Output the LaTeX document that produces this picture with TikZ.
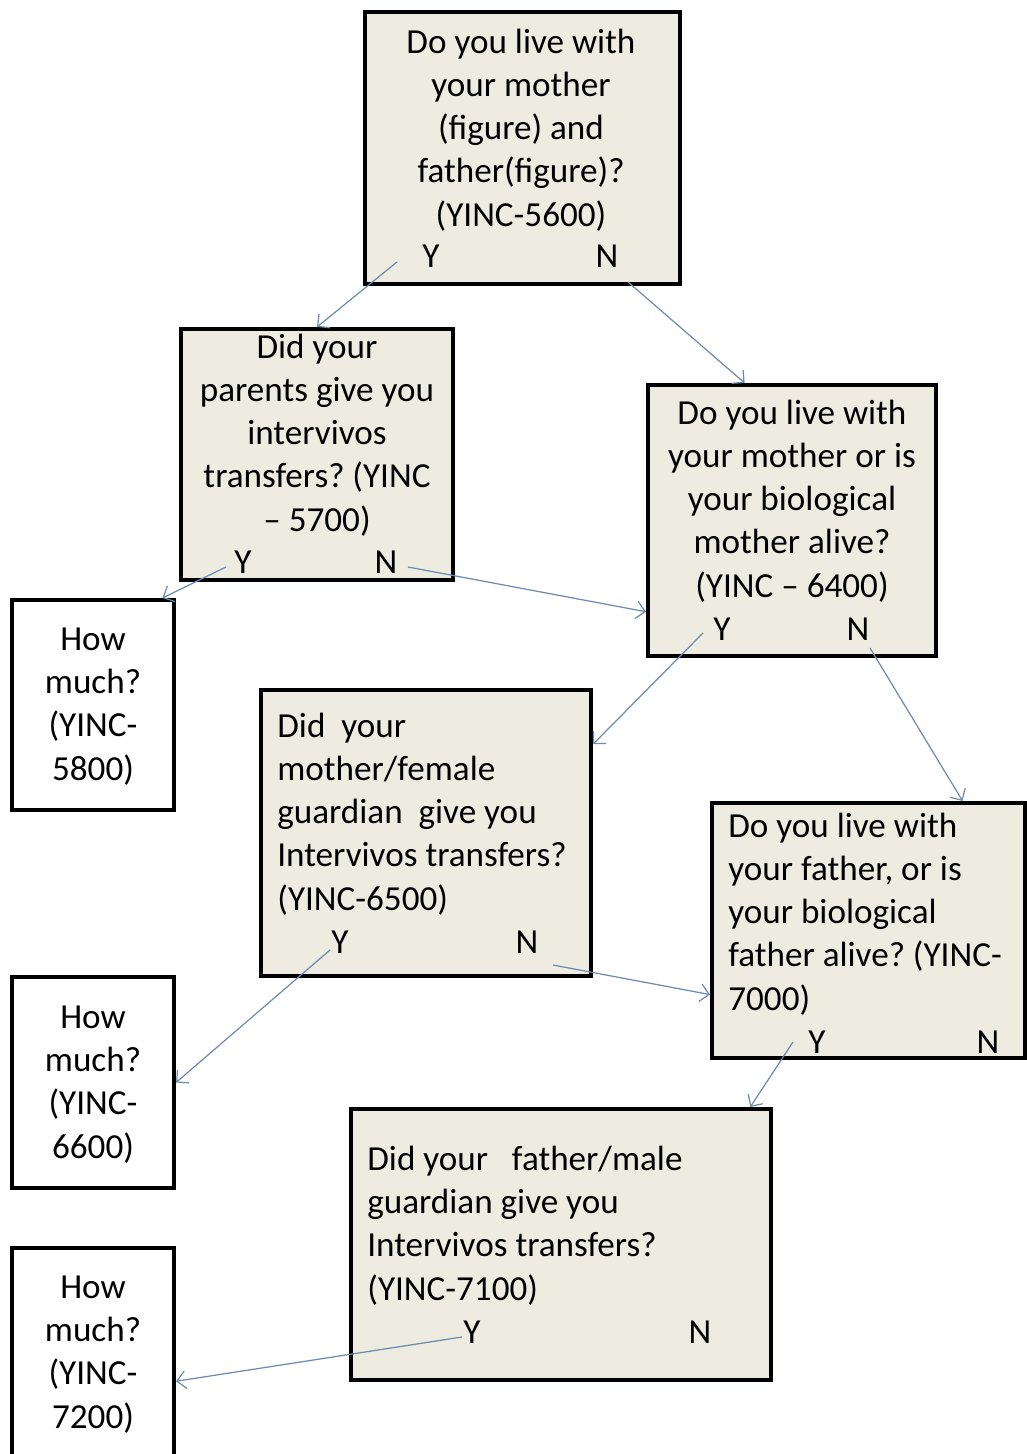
\documentclass[tikz,border=0pt]{standalone}
\usepackage{fontspec}
\setmainfont{Carlito}
\usetikzlibrary{positioning,fit,arrows.meta}
\definecolor{boxtan}{RGB}{238,236,225}
\definecolor{flowblue}{RGB}{108,138,178}
\frenchspacing

\begin{document}
\begin{tikzpicture}[x=0.02cm, y=-0.02cm,
    qbox/.style={draw, line width=2.3pt, fill=boxtan, inner sep=0pt},
    abox/.style={draw, line width=2.3pt, fill=white, inner sep=0pt},
    qtext/.style={inner sep=0pt, font=\fontsize{20pt}{24.6pt}\selectfont, align=center, anchor=base},
    ltext/.style={qtext, align=left, anchor=base west},
    yn/.style={inner sep=0pt, font=\fontsize{20pt}{24.6pt}\selectfont, anchor=base},
    flow/.style={draw=flowblue, line width=0.7pt, -{Straight Barb[length=5pt,width=10pt]}}]
    \clip (0,0) rectangle (1027,1454);

    % question boxes
    \node[qbox, fit={(365,12) (680,284)}] (TopQ) {};
    \node[qbox, fit={(181,329) (453,580)}] (ParentsQ) {};
    \node[qbox, fit={(648,385) (936,656)}] (MotherQ) {};
    \node[qbox, fit={(261,690) (591,976)}] (MotherGiveQ) {};
    \node[qbox, fit={(712,803) (1025,1058)}] (FatherQ) {};
    \node[qbox, fit={(351,1109) (771,1380)}] (FatherGiveQ) {};

    % answer boxes
    \node[abox, fit={(12,600) (174,810)}] (HowMuchA) {};
    \node[abox, fit={(12,977) (174,1188)}] (HowMuchB) {};
    \node[abox, fit={(12,1248) (174,1470)}] (HowMuchC) {};

    % texts (placed at the baseline of their last line)
    \node[qtext] (TopText) at (521,226) {Do you live with\\your mother\\(figure) and\\father(figure)?\\(YINC-5600)};
    \node[yn] (TopY) at (431,267) {Y};
    \node[yn] (TopN) at (607,267) {N};

    \node[qtext] (ParentsText) at (317,531) {Did your\\parents give you\\intervivos\\transfers? (YINC\\– 5700)};
    \node[yn] (ParentsY) at (243,573) {Y};
    \node[yn] (ParentsN) at (386,573) {N};

    \node[qtext] (MotherText) at (792,597) {Do you live with\\your mother or is\\your biological\\mother alive?\\(YINC – 6400)};
    \node[yn] (MotherY) at (722,640) {Y};
    \node[yn] (MotherN) at (858,640) {N};

    \node[ltext] (MotherGiveText) at (277,910) {Did\ \ your\\mother/female\\guardian\ \ give you\\Intervivos transfers?\\(YINC-6500)};
    \node[yn] (MotherGiveY) at (340,953) {Y};
    \node[yn] (MotherGiveN) at (527,953) {N};

    \node[ltext] (FatherText) at (728,1010) {Do you live with\\your father, or is\\your biological\\father alive? (YINC-\\7000)};
    \node[yn] (FatherY) at (817,1053) {Y};
    \node[yn] (FatherN) at (988,1053) {N};

    \node[ltext] (FatherGiveText) at (367,1300) {Did your\ \ \ father/male\\guardian give you\\Intervivos transfers?\\(YINC-7100)};
    \node[yn] (FatherGiveY) at (472,1343) {Y};
    \node[yn] (FatherGiveN) at (700,1343) {N};

    \node[qtext] (HowMuchAText) at (93,780) {How\\much?\\(YINC-\\5800)};
    \node[qtext] (HowMuchBText) at (93,1158) {How\\much?\\(YINC-\\6600)};
    \node[qtext] (HowMuchCText) at (93,1428) {How\\much?\\(YINC-\\7200)};

    % arrow feet
    \coordinate (TopYfoot) at (397,262);
    \coordinate (TopNfoot) at (628,282);
    \coordinate (ParentsYfoot) at (226,567);
    \coordinate (ParentsNfoot) at (408,567);
    \coordinate (MotherYfoot) at (703,633);
    \coordinate (MotherNfoot) at (870,648);
    \coordinate (MotherGiveYfoot) at (330,950);
    \coordinate (MotherGiveNfoot) at (553,965);
    \coordinate (FatherYfoot) at (793,1042);
    \coordinate (FatherGiveYfoot) at (462,1337);

    \draw[flow] (TopYfoot) -- (ParentsQ.north);
    \draw[flow] (TopNfoot) -- (MotherQ.109);
    \draw[flow] (ParentsYfoot) -- (HowMuchA.57);
    \draw[flow] (ParentsNfoot) -- (MotherQ.212);
    \draw[flow] (MotherYfoot) -- (MotherGiveQ.28);
    \draw[flow] (MotherNfoot) -- (FatherQ.54);
    \draw[flow] (MotherGiveYfoot) -- (HowMuchB.east);
    \draw[flow] (MotherGiveNfoot) -- (FatherQ.202);
    \draw[flow] (FatherYfoot) -- (FatherGiveQ.36);
    \draw[flow] (FatherGiveYfoot) -- (HowMuchC.-15);
\end{tikzpicture}
\end{document}
